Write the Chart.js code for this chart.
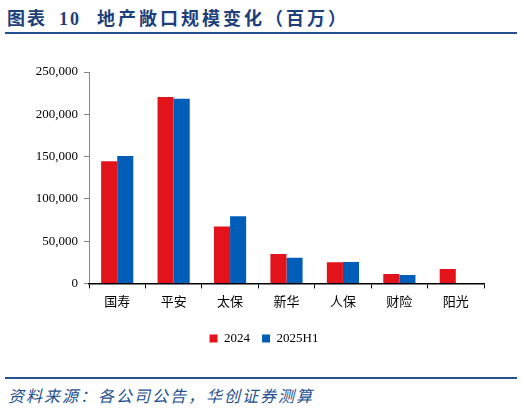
<!DOCTYPE html>
<html>
<head>
<meta charset="utf-8">
<script src="https://cdn.jsdelivr.net/npm/chart.js@4/dist/chart.umd.min.js"></script>
<style>
  body { margin: 0; width: 524px; height: 409px; background: #fff; position: relative; overflow: hidden; }
  #title { position: absolute; left: 7px; top: 4px; font: bold 18px "Liberation Serif", "Noto Sans CJK SC", serif; color: #1d3f7c; white-space: pre; }
  #title span { letter-spacing: 2px; }
  .rule { position: absolute; left: 5px; width: 512px; height: 2px; background: #23508f; }
  #src { position: absolute; left: 8px; top: 383px; font: italic 16px "Liberation Serif", "Noto Sans CJK SC", serif; color: #23508f; letter-spacing: 2px; }
  #wrap { position: absolute; left: 0; top: 40px; width: 524px; height: 319px; }
</style>
</head>
<body>
<div id="title"><span>图表</span><span style="margin-left:12px">10</span><span style="margin-left:16px;letter-spacing:3px">地产敞口规模变化（百万）</span></div>
<div class="rule" style="top:32px"></div>
<div id="wrap"><canvas id="c"></canvas></div>
<div class="rule" style="top:377px"></div>
<div id="src">资料来源：各公司公告，华创证券测算</div>
<script>
const categories = ["国寿", "平安", "太保", "新华", "人保", "财险", "阳光"];
const values2024 = [144500, 220400, 67200, 34800, 24900, 11000, 17000];
const values2025H1 = [150800, 218400, 79400, 30400, 25300, 9900, null];
const seriesNames = ["2024", "2025H1"];
const colors = ["#e3131b", "#005eb8"];

const numFont = { family: "'Liberation Serif', 'Noto Sans CJK SC', serif", size: 13 };

// legend in the reference is centred on the page, not on the plot box
const shiftLegend = {
  id: "shiftLegend",
  afterLayout(chart) {
    chart.legend.left += 22;
    chart.legend.right += 22;
  }
};

new Chart(document.getElementById("c"), {
  type: "bar",
  data: {
    labels: categories,
    datasets: [values2024, values2025H1].map((d, i) => ({
      label: seriesNames[i],
      data: d,
      backgroundColor: colors[i],
      categoryPercentage: 0.57,
      barPercentage: 1.0
    }))
  },
  plugins: [shiftLegend],
  options: {
    responsive: true,
    maintainAspectRatio: false,
    animation: false,
    layout: { padding: { left: 0, right: 40, top: 32, bottom: 4 } },
    plugins: {
      tooltip: { enabled: false },
      legend: {
        position: "bottom",
        labels: { boxWidth: 8, boxHeight: 8, padding: 12, color: "#000", font: numFont }
      }
    },
    scales: {
      y: {
        min: 0, max: 250000,
        afterFit: s => { s.width = 89; },
        ticks: { stepSize: 50000, color: "#000", font: numFont, padding: 6,
          callback: v => v.toLocaleString("en-US") },
        grid: { drawOnChartArea: false, tickLength: 5, color: "#888" },
        border: { color: "#888", width: 1 }
      },
      x: {
        afterFit: s => { s.height += 4; },
        ticks: { color: "#000", font: numFont, padding: 6 },
        grid: { drawOnChartArea: false, tickLength: 5, color: "#000", offset: true },
        border: { color: "#000", width: 1.5 }
      }
    }
  }
});
</script>
</body>
</html>
